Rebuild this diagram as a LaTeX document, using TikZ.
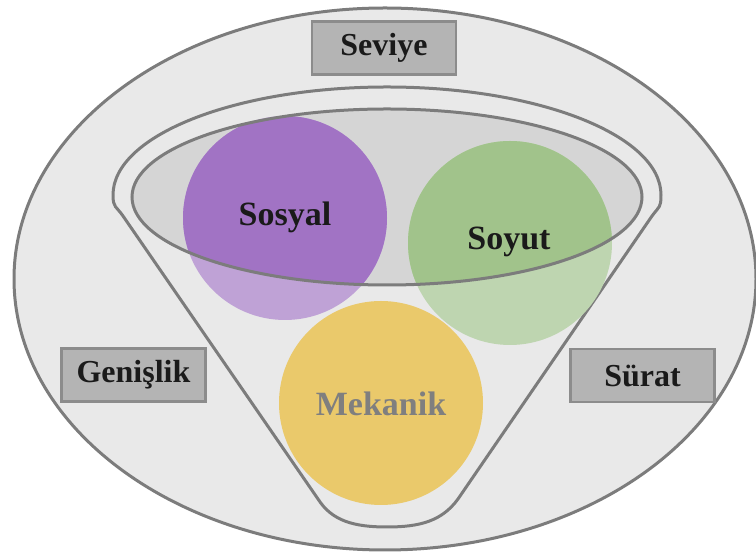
\documentclass[tikz,border=0pt]{standalone}
\usepackage{fontspec}
\setmainfont{Liberation Serif}
\definecolor{bgc}{HTML}{E9E9E9}
\definecolor{inner}{HTML}{D5D5D5}
\definecolor{edge}{HTML}{7C7C7C}
\definecolor{boxfill}{HTML}{B4B4B4}
\definecolor{boxedge}{HTML}{8C8C8C}
\definecolor{pD}{HTML}{A173C4}
\definecolor{pL}{HTML}{BFA2D6}
\definecolor{gD}{HTML}{A1C38B}
\definecolor{gL}{HTML}{BED5B0}
\definecolor{yD}{HTML}{EAC96B}
\definecolor{txt}{HTML}{1A1A1A}
\definecolor{gtxt}{HTML}{7F7F7F}
\tikzset{
  outline/.style={draw=edge, line width=3pt},
  ball/.style={circle, inner sep=0pt, minimum size=204pt, draw=none},
  lbl/.style={font=\fontsize{34}{40}\selectfont\bfseries, text=txt, inner sep=0pt},
  tag/.style={draw=boxedge, line width=2.8pt, fill=boxfill, minimum width=144pt, minimum height=53pt, inner sep=0pt, font=\fontsize{32}{38}\selectfont\bfseries, text=txt},
}
\begin{document}
\begin{tikzpicture}[x=1pt,y=1pt]
\useasboundingbox (0,0) rectangle (756,556);
% outer ellipse
\draw[outline, fill=bgc] (385,277) ellipse [x radius=371, y radius=271];
% funnel
\draw[outline, fill=bgc, line join=round]
  (113,361) arc[start angle=180, end angle=0, x radius=274, y radius=108]
  .. controls (661,348) and (659.3,349.9) .. (652,340)
  -- (458,57) .. controls (442,35) and (420,29) .. (387,29)
  .. controls (354,29) and (332,35) .. (318,57)
  -- (123,340) .. controls (116.2,349.9) and (113,348) .. (113,361) -- cycle;
% inner ellipse fill
\fill[inner] (387,359) ellipse [x radius=255, y radius=88];
% circles
\node[ball, fill=pL] (sosyal) at (285,338) {};
\node[ball, fill=gL] (soyut) at (510,313) {};
\node[ball, fill=yD] (mekanik) at (381,153) {};
\begin{scope}
  \clip (387,359) ellipse [x radius=255, y radius=88];
  \fill[pD] (sosyal.center) circle [radius=102];
  \fill[gD] (soyut.center) circle [radius=102];
\end{scope}
\draw[outline] (387,359) ellipse [x radius=255, y radius=88];
% labels
\node[lbl] (sosyalT) at (285,339) {Sosyal};
\node[lbl] (soyutT) at (509,314) {Soyut};
\node[lbl, text=gtxt] (mekanikT) at (381,152) {Mekanik};
% boxes
\node[tag] (seviye) at (384,508) {Seviye};
\node[tag] (genislik) at (133.5,181) {Genişlik};
\node[tag] (surat) at (642.5,180.5) {Sürat};
\end{tikzpicture}
\end{document}
